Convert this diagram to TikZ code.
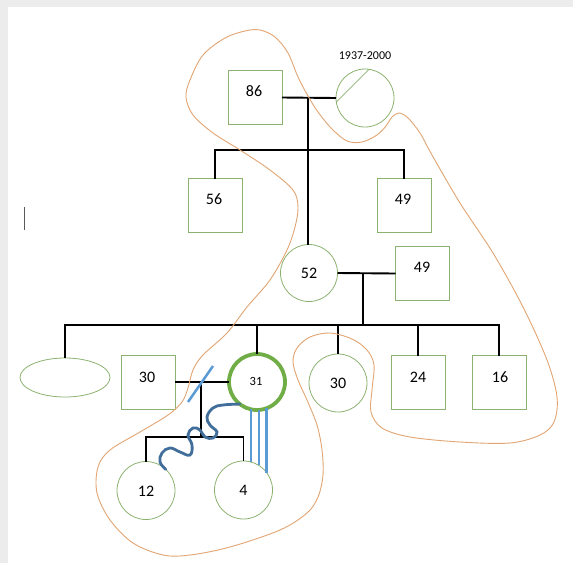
\documentclass[tikz,border=0pt]{standalone}
\usepackage{fontspec}
\setmainfont{Carlito}
\usetikzlibrary{calc,shapes.geometric}
\definecolor{gline}{RGB}{140,178,112}
\definecolor{gthick}{RGB}{112,173,71}
\definecolor{bline}{RGB}{91,155,213}
\definecolor{bwave}{RGB}{65,110,155}
\definecolor{oline}{RGB}{226,165,115}
\definecolor{framegray}{RGB}{236,236,236}
\begin{document}
\begin{tikzpicture}[x=1pt,y=-1pt,
  sq/.style={draw=gline,line width=0.8pt,minimum size=54pt,inner sep=0pt,outer sep=0pt},
  ci/.style={draw=gline,line width=0.8pt,circle,minimum size=58pt,inner sep=0pt,outer sep=0pt},
  num/.style={font=\fontsize{16}{18}\selectfont,inner sep=0pt},
  rel/.style={line width=1.9pt,black},
  bluemark/.style={bline,line width=2.5pt},
  wave/.style={bwave,line width=2.8pt,line cap=round},
  halo/.style={oline,line width=0.9pt}]
\useasboundingbox (0,0) rectangle (573,563);
\fill[white] (0,0) rectangle (573,563);
\fill[framegray] (0,0) rectangle (573,7);
\fill[framegray] (0,0) rectangle (8,563);
% text cursor
\draw[line width=1.4pt,black!65] (24.5,207) -- (24.5,230);

% generation I
\node[sq] (s86) at (255,97.5) {};
\node[num] (t86) at (254,91) {86};
\node[ci] (cd) at (365,98) {};
\node[font=\fontsize{12}{14}\selectfont,inner sep=0pt] (lbl) at (365,56) {1937-2000};
\draw[gline,line width=0.8pt] (cd.188) -- (cd.82);
\coordinate (m1) at (308,97.5);
\draw[rel] (s86.east) -- (cd.west);

% generation II
\node[sq] (s56) at (215,205.5) {};
\node[num] (t56) at (214,199) {56};
\node[sq] (s49a) at (404,205.5) {};
\node[num] (t49a) at (403,199) {49};
\coordinate (sib1) at (308,150);
\draw[rel] (s56.north) |- (sib1) -| (s49a.north);
\node[ci,minimum size=57pt] (c52) at (309,273) {};
\node[num] (t52) at (309,273) {52};
\draw[rel] (m1) -- (m1 |- c52.north);
\node[sq] (s49b) at (422.5,273.5) {};
\node[num] (t49b) at (422,267) {49};
\draw[rel] (c52.east) -- (s49b.west);
\coordinate (m2) at (363,273);
\coordinate (sib2) at (363,325);
\draw[rel] (m2) -- (sib2);

% generation III
\node[draw=gline,line width=0.8pt,ellipse,minimum width=90pt,minimum height=39pt,inner sep=0pt] (ell) at (65,377.5) {};
\node[sq] (s30) at (148,382) {};
\node[num] (t30a) at (147,377) {30};
\node[circle,draw=gthick,line width=3.8pt,minimum size=56pt,inner sep=0pt,outer sep=0pt] (c31) at (257,382) {};
\node[font=\fontsize{12.5}{14}\selectfont,inner sep=0pt] (t31) at (256,381) {31};
\node[ci] (c30) at (338,383) {};
\node[num] (t30b) at (338,383) {30};
\node[sq] (s24) at (418,382.5) {};
\node[num] (t24) at (418,377) {24};
\node[sq] (s16) at (499,382.5) {};
\node[num] (t16) at (500,377) {16};
\draw[rel] (ell.north) |- (sib2) -| (s16.north);
\draw[rel] (c31.north) -- (c31.north |- sib2);
\draw[rel] (c30.north) -- (c30.north |- sib2);
\draw[rel] (s24.north) -- (s24.north |- sib2);

% generation IV
\draw[rel] (s30.east) -- (c31.west);
\coordinate (m3) at (201,382);
\coordinate (sib3) at (201,437);
\draw[rel] (m3) -- (sib3);
\draw[bluemark] ($(m3)+(-13,20)$) -- ($(m3)+(12,-16)$);
\node[ci] (c12) at (146,490.5) {};
\node[num] (t12) at (146,491) {12};
\node[ci] (c4) at (243.5,490) {};
\node[num] (t4) at (243.5,490) {4};
\draw[rel] (c12.north) |- (sib3) -| (c4.north);

% relationships
\draw[bluemark,line width=2.3pt] (c31.-102) -- (c31.-102 |- c4.76);
\draw[bluemark,line width=2.3pt] (c31.-86) -- (c31.-86 |- c4.58);
\draw[bluemark,line width=2.3pt] (c31.-70) -- (c31.-70 |- c4.37);
\draw[wave] plot[smooth,tension=0.7] coordinates {(c31.-128) (223,405) (213,408) (207,417) (210,425) (217,432) (213,438) (205,437) (200,430) (193,428) (188,435) (192,445) (190,455) (180,452) (170,448) (162,453) (160,462) (c12.47)};

% household outline
\draw[halo] plot[smooth cycle,tension=0.55] coordinates {(260,30) (275,37) (288,53) (298,77) (308,96) (318,112) (332,129) (347,141) (362,142) (377,135) (386,126) (392,117) (399,113) (408,118) (420,133) (432,155) (460,203) (493,253) (523,307) (547,360) (557,397) (554,422) (540,435) (510,443) (460,442) (410,437) (382,428) (371,412) (372,390) (374,365) (367,350) (352,339) (330,333) (310,337) (297,348) (293,362) (298,380) (307,400) (317,425) (322,450) (323,475) (318,497) (307,513) (280,530) (230,547) (190,555) (163,555) (133,543) (110,520) (97,493) (98,467) (110,450) (140,432) (168,415) (182,402) (188,388) (193,370) (203,355) (227,333) (247,307) (270,280) (287,250) (295,227) (298,207) (293,190) (270,170) (240,150) (213,133) (193,115) (186,97) (190,80) (203,55) (225,38) (245,31)};
\end{tikzpicture}
\end{document}
